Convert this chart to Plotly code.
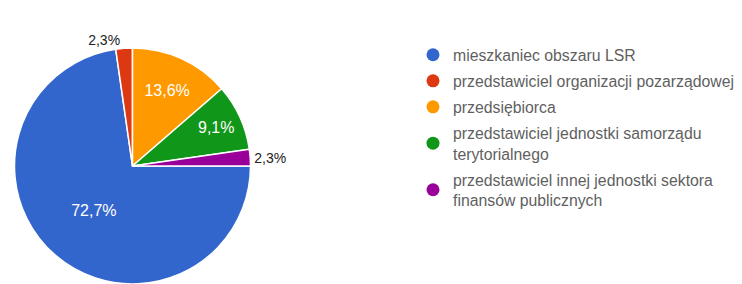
import plotly.graph_objects as go

categories = [
    "mieszkaniec obszaru LSR",
    "przedstawiciel organizacji pozarządowej",
    "przedsiębiorca",
    "przedstawiciel jednostki samorządu<br>terytorialnego",
    "przedstawiciel innej jednostki sektora<br>finansów publicznych",
]
counts = [32, 1, 6, 4, 1]
colors = ["#3366CC", "#DC3912", "#FF9900", "#109618", "#990099"]
text_positions = ["inside", "outside", "inside", "inside", "outside"]

W, H = 742, 284

fig = go.Figure()

fig.add_trace(go.Pie(
    labels=categories,
    values=counts,
    sort=False,
    direction="clockwise",
    rotation=90,
    marker=dict(colors=colors, line=dict(color="white", width=1.5)),
    texttemplate="%{percent:.1%}",
    textposition=text_positions,
    insidetextorientation="horizontal",
    insidetextfont=dict(color="white", size=16, family="Arial"),
    outsidetextfont=dict(color="#222222", size=14, family="Arial"),
    showlegend=False,
    hoverinfo="label+percent",
    domain=dict(x=[12.5 / W, 252.5 / W], y=[0, 236 / H]),
))

for i, (name, col) in enumerate(zip(categories, colors)):
    fig.add_trace(go.Scatter(
        x=[None], y=[None], mode="markers", name=name,
        marker=dict(color=col, size=13, symbol="circle"),
        legendgroup=f"g{i}",
        showlegend=True,
    ))

fig.update_layout(
    width=W, height=H,
    margin=dict(l=0, r=0, t=0, b=0, autoexpand=False),
    paper_bgcolor="white",
    plot_bgcolor="white",
    separators=", ",
    xaxis=dict(visible=False),
    yaxis=dict(visible=False),
    legend=dict(
        x=413 / W, xanchor="left",
        y=1 - 38 / H, yanchor="top",
        font=dict(family="Arial", size=15.8, color="#5f5f5f"),
        bgcolor="rgba(0,0,0,0)",
        itemsizing="trace",
        traceorder="grouped",
        tracegroupgap=2.5,
    ),
)

fig.write_html(
    "out.html",
    config={"displayModeBar": False},
    post_script="document.body.style.margin='0';document.body.style.overflow='hidden';",
)
